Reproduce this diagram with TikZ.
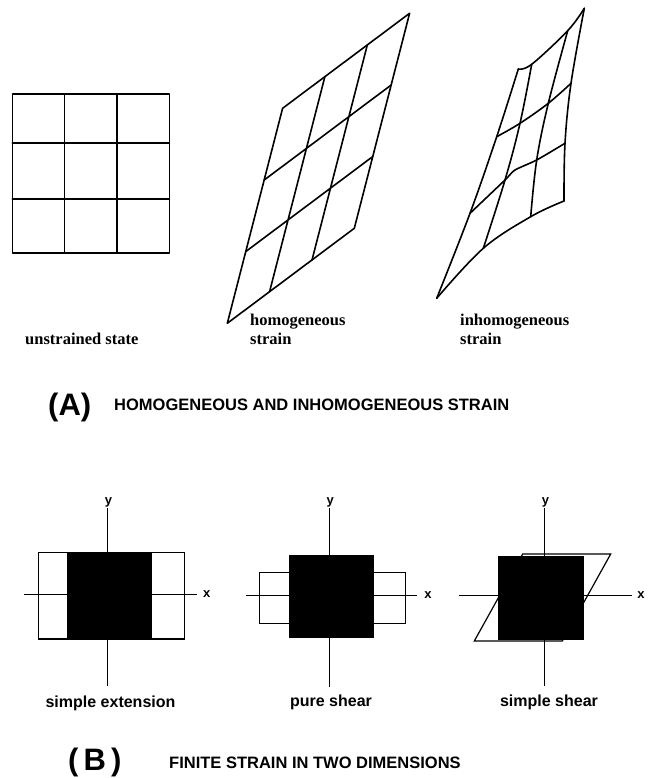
\documentclass[tikz,border=0pt]{standalone}
\usepackage{fontspec}
\setmainfont{Liberation Serif}
\newfontfamily\hv{Liberation Sans}
\begin{document}
\begin{tikzpicture}[x=1pt,y=-1pt,
  gridline/.style={line width=1.6pt, line join=round, line cap=round},
  axisline/.style={line width=0.7pt},
  boxline/.style={line width=1.2pt},
  blackbox/.style={fill=black, draw=none},
  lblA/.style={font=\fontsize{16.5}{19}\selectfont\bfseries, anchor=base west, inner sep=0, align=left},
  lblB/.style={font=\hv\fontsize{16}{18}\selectfont\bfseries, anchor=base, inner sep=0},
  head/.style={font=\hv\fontsize{16.5}{20}\selectfont\bfseries, anchor=base west, inner sep=0},
  bighead/.style={font=\hv\fontsize{31}{36}\selectfont\bfseries, anchor=base west, inner sep=0},
  axlbl/.style={font=\hv\fontsize{13}{15}\selectfont\bfseries, inner sep=0}]
\useasboundingbox (0,0) rectangle (652,778);

% ---------- (A) unstrained grid ----------
\draw[gridline] (12.3,94) rectangle (169.3,253);
\draw[gridline] (64.3,94) -- (64.3,253) (116.7,94) -- (116.7,253)
  (12.3,143.3) -- (169.3,143.3) (12.3,198.7) -- (169.3,198.7);

% ---------- homogeneous strain ----------
\draw[gridline] (227.3,323.3) -- (354.3,228.3) -- (409.6,13.3) -- (282.6,108.3) -- cycle;
\draw[gridline] (245.7,251.6) -- (372.7,156.6)
  (264.2,180.0) -- (391.2,85.0)
  (269.6,291.6) -- (324.9,76.6)
  (312.0,260.0) -- (367.3,45.0);

% ---------- inhomogeneous strain ----------
\coordinate (TL) at (518.3,69);   \coordinate (T1) at (531.7,64.3);
\coordinate (T2) at (567.7,30.7); \coordinate (TR) at (584.3,8.3);
\coordinate (L1) at (496.7,136.7); \coordinate (I11) at (520,123.3);
\coordinate (I12) at (548.3,103.3); \coordinate (R1) at (571,83.3);
\coordinate (L2) at (470,213.3); \coordinate (I21) at (505,180);
\coordinate (K) at (515,170);
\coordinate (I22) at (536.7,160); \coordinate (R2) at (565,143.3);
\coordinate (BL) at (436.7,298.3); \coordinate (B1) at (483.3,248.3);
\coordinate (B2) at (530.7,216.7); \coordinate (BR) at (564,201);
\draw[gridline] plot[smooth, tension=0.6] coordinates {(TL) (T1) (T2) (TR)};
\draw[gridline] plot[smooth, tension=0.6] coordinates {(TR) (R1) (R2) (BR)};
\draw[gridline] plot[smooth, tension=0.6] coordinates {(BL) (B1) (B2) (BR)};
\draw[gridline] plot[smooth, tension=0.6] coordinates {(BL) (L2) (L1) (TL)};
\draw[gridline] plot[smooth, tension=0.6] coordinates {(L1) (I11) (I12) (R1)};
\draw[gridline] plot[smooth, tension=0.4] coordinates {(L2) (I21) (K) (I22) (R2)};
\draw[gridline] plot[smooth, tension=0.6] coordinates {(T1) (I11) (I21) (B1)};
\draw[gridline] plot[smooth, tension=0.6] coordinates {(T2) (I12) (I22) (B2)};

% ---------- labels (A) ----------
\node[lblA] (lu) at (25,344) {unstrained state};
\node[lblA] (lh) at (250,344) {homogeneous\\strain};
\node[lblA] (li) at (460,344) {inhomogeneous\\strain};
\node[bighead] (hA) at (48,415) {(A)};
\node[head] (tA) at (114,410) {HOMOGENEOUS AND INHOMOGENEOUS STRAIN};

% ---------- (B) panel 1: simple extension ----------
\draw[axisline] (107.3,508) -- (107.3,686);
\draw[axisline] (24.3,594.5) -- (196.7,594.5);
\node[axlbl, anchor=south] (y1) at (108.5,507) {y};
\node[axlbl] (x1) at (206.7,594.5) {x};
\draw[boxline] (38.3,552.7) rectangle (184.3,639);
\fill[blackbox] (67.3,552.7) rectangle (152.3,639);

% ---------- panel 2: pure shear ----------
\draw[axisline] (329,508) -- (329,686.7);
\draw[axisline] (245.7,595.3) -- (417.3,595.3);
\node[axlbl, anchor=south] (y2) at (330.2,507) {y};
\node[axlbl] (x2) at (428,595.3) {x};
\draw[boxline] (259.3,572.7) rectangle (405.7,623.3);
\fill[blackbox] (289,555) rectangle (374.3,638.3);

% ---------- panel 3: simple shear ----------
\draw[axisline] (544.3,508) -- (544.3,686);
\draw[axisline] (459.3,595) -- (631.7,595);
\node[axlbl, anchor=south] (y3) at (545.5,507) {y};
\node[axlbl] (x3) at (641,595) {x};
\draw[boxline] (474.3,641) -- (562.3,641) -- (610.7,554) -- (522.7,554) -- cycle;
\fill[blackbox] (498.3,556) rectangle (584.3,640);

% ---------- labels (B) ----------
\node[lblB] (ls1) at (110.5,707) {simple extension};
\node[lblB] (ls2) at (331,706) {pure shear};
\node[lblB] (ls3) at (549,706) {simple shear};
\node[bighead] (hB) at (68,770) {(\,B\,)};
\node[head] (tB) at (169,768) {FINITE STRAIN IN TWO DIMENSIONS};
\end{tikzpicture}
\end{document}
